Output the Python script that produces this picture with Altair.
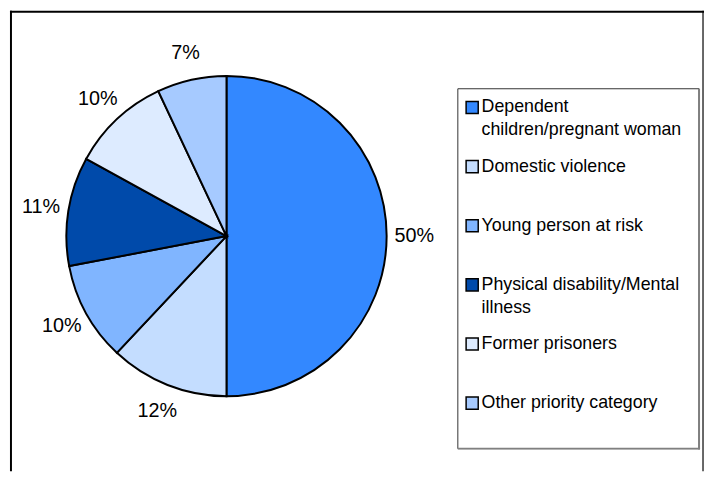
import altair as alt
import pandas as pd

categories = [
    "Dependent children/pregnant woman",
    "Domestic violence",
    "Young person at risk",
    "Physical disability/Mental illness",
    "Former prisoners",
    "Other priority category",
]
legend_text = [
    "Dependent\nchildren/pregnant woman",
    "Domestic violence",
    "Young person at risk",
    "Physical disability/Mental\nillness",
    "Former prisoners",
    "Other priority category",
]
values = [50, 12, 10, 11, 10, 7]
labels = ["50%", "12%", "10%", "11%", "10%", "7%"]
colors = ["#3388FF", "#C4DDFF", "#80B5FF", "#004AAA", "#DDEBFF", "#A6CAFF"]

df = pd.DataFrame({
    "category": categories,
    "legend": legend_text,
    "value": values,
    "label": labels,
    "order": list(range(len(categories))),
})

FONT = "Liberation Sans"
CX, CY, R = 221, 228, 162

color = alt.Color("category:N", scale=alt.Scale(domain=categories, range=colors), legend=None)
theta = alt.Theta("value:Q", stack=True)
order = alt.Order("order:Q")

base = alt.Chart(df)

pie = base.mark_arc(outerRadius=R, stroke="black", strokeWidth=2).encode(
    theta=theta, order=order, color=color,
    x=alt.value(CX), y=alt.value(CY),
)

pct = base.mark_text(radius=190, font=FONT, fontSize=20, color="black").encode(
    theta=theta, order=order, text="label:N",
    x=alt.value(CX), y=alt.value(CY),
)

one = alt.Data(values=[{}])

legend_box = alt.Chart(one).mark_rect(fill="white", stroke="#333333", strokeWidth=1).encode(
    x=alt.value(455), x2=alt.value(699), y=alt.value(79), y2=alt.value(443)
)
shadow_r = alt.Chart(one).mark_rule(color="#808080", strokeWidth=2).encode(
    x=alt.value(699), y=alt.value(79), y2=alt.value(444)
)
shadow_b = alt.Chart(one).mark_rule(color="#808080", strokeWidth=2).encode(
    x=alt.value(455), x2=alt.value(700), y=alt.value(443)
)

ypos = alt.Y("category:N", scale=alt.Scale(type="point", domain=categories, range=[98, 397], padding=0), axis=None)

leg_sq = base.mark_square(size=150, opacity=1, filled=True, stroke="black", strokeWidth=1.5).encode(
    x=alt.value(469.5), y=ypos, color=color
)
leg_txt = base.mark_text(align="left", baseline="middle", font=FONT, fontSize=18,
                         lineBreak="\n", lineHeight=23, color="black").encode(
    x=alt.value(479), y=ypos, text="legend:N"
)

frame_top = alt.Chart(one).mark_rule(color="black", strokeWidth=2).encode(
    x=alt.value(2), x2=alt.value(704), y=alt.value(1)
)
frame_left = alt.Chart(one).mark_rule(color="black", strokeWidth=2).encode(
    x=alt.value(3), y=alt.value(0), y2=alt.value(466)
)
frame_right = alt.Chart(one).mark_rule(color="black", strokeWidth=1.2).encode(
    x=alt.value(703), y=alt.value(0), y2=alt.value(466)
)

chart = alt.layer(
    frame_top, frame_left, frame_right,
    pie, pct, legend_box, shadow_r, shadow_b, leg_sq, leg_txt,
).properties(
    width=704, height=466, padding=0, autosize="none", background="white"
).configure_view(stroke=None)

chart.save("out.html", embed_options={"renderer": "svg", "actions": False})
